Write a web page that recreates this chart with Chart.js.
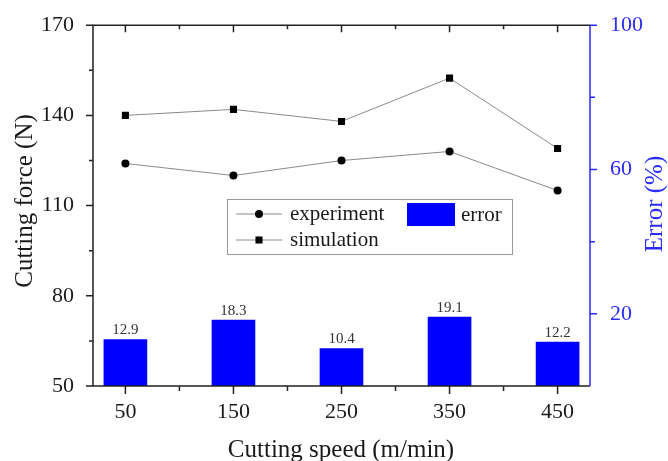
<!DOCTYPE html>
<html>
<head>
<meta charset="utf-8">
<script src="https://cdn.jsdelivr.net/npm/chart.js@4/dist/chart.umd.min.js"></script>
<style>
  html, body { margin: 0; padding: 0; background: #fff; }
  #wrap { width: 668px; height: 461px; }
</style>
</head>
<body>
<div id="wrap"><canvas id="chart" width="668" height="461"></canvas></div>
<script>
const SPEEDS = [50, 150, 250, 350, 450];
const EXPERIMENT = [124, 120, 125, 128, 115];
const SIMULATION = [140, 142, 138, 152.4, 129];
const ERROR = [12.9, 18.3, 10.4, 19.1, 12.2];

const FORCE_TICKS = [50, 80, 110, 140, 170];
const FORCE_MINOR = [65, 95, 125, 155];
const ERROR_TICKS = [20, 60, 100];
const ERROR_MINOR = [40, 80];
const SPEED_MINOR = [100, 200, 300, 400];

const SERIF = '"Liberation Serif", "Times New Roman", serif';
const INK = '#1a1a1a';
const BLUE = '#0000ff';
const AXIS_BLUE = '#2b2bff';

const toPoints = (ys) => SPEEDS.map((x, i) => ({ x: x, y: ys[i] }));

// frame lines plus tick marks (major + minor)
const frameTicks = {
    id: 'frameTicks',
    afterDraw(chart) {
        const ctx = chart.ctx;
        const { left, right, top, bottom } = chart.chartArea;
        const x = chart.scales.x, y = chart.scales.y, y1 = chart.scales.y1;
        ctx.save();
        ctx.lineWidth = 1.5;

        ctx.strokeStyle = '#222';
        ctx.beginPath();
        ctx.moveTo(right, top); ctx.lineTo(left, top);
        ctx.lineTo(left, bottom); ctx.lineTo(right, bottom);
        ctx.stroke();

        ctx.beginPath();
        SPEEDS.forEach(v => {
            const px = x.getPixelForValue(v);
            ctx.moveTo(px, bottom); ctx.lineTo(px, bottom + 8);
            ctx.moveTo(px, top); ctx.lineTo(px, top + 7);
        });
        SPEED_MINOR.forEach(v => {
            const px = x.getPixelForValue(v);
            ctx.moveTo(px, bottom); ctx.lineTo(px, bottom + 5);
            ctx.moveTo(px, top); ctx.lineTo(px, top + 4);
        });
        FORCE_TICKS.forEach(v => {
            const py = y.getPixelForValue(v);
            ctx.moveTo(left, py); ctx.lineTo(left - 7, py);
        });
        FORCE_MINOR.forEach(v => {
            const py = y.getPixelForValue(v);
            ctx.moveTo(left, py); ctx.lineTo(left - 4, py);
        });
        ctx.stroke();

        ctx.strokeStyle = AXIS_BLUE;
        ctx.beginPath();
        ctx.moveTo(right, top); ctx.lineTo(right, bottom);
        ERROR_TICKS.forEach(v => {
            const py = y1.getPixelForValue(v);
            ctx.moveTo(right, py); ctx.lineTo(right + 7, py);
        });
        ERROR_MINOR.forEach(v => {
            const py = y1.getPixelForValue(v);
            ctx.moveTo(right, py); ctx.lineTo(right + 5, py);
        });
        ctx.stroke();
        ctx.restore();
    }
};

// value printed above each error bar
const barValues = {
    id: 'barValues',
    afterDatasetsDraw(chart) {
        const ctx = chart.ctx;
        const meta = chart.getDatasetMeta(0);
        ctx.save();
        ctx.font = '15px ' + SERIF;
        ctx.fillStyle = '#333';
        ctx.textAlign = 'center';
        ctx.textBaseline = 'alphabetic';
        meta.data.forEach((bar, i) => {
            ctx.fillText(String(ERROR[i]), bar.x, bar.y - 5);
        });
        ctx.restore();
    }
};

// axis titles
const axisTitles = {
    id: 'axisTitles',
    afterDraw(chart) {
        const ctx = chart.ctx;
        ctx.save();
        ctx.font = '25px ' + SERIF;
        ctx.textAlign = 'center';
        ctx.textBaseline = 'alphabetic';
        ctx.fillStyle = INK;
        ctx.fillText('Cutting speed (m/min)', 341, 457);

        ctx.translate(32, 201);
        ctx.rotate(-Math.PI / 2);
        ctx.fillText('Cutting force (N)', 0, 0);
        ctx.restore();

        ctx.save();
        ctx.font = '25px ' + SERIF;
        ctx.textAlign = 'center';
        ctx.fillStyle = AXIS_BLUE;
        ctx.translate(662, 204);
        ctx.rotate(-Math.PI / 2);
        ctx.fillText('Error (%)', 0, 0);
        ctx.restore();
    }
};

// boxed legend: two line series on the left, the bar swatch on the right
const boxLegend = {
    id: 'boxLegend',
    afterDraw(chart) {
        const ctx = chart.ctx;
        const ds = chart.data.datasets;
        ctx.save();
        ctx.fillStyle = '#fff';
        ctx.fillRect(227, 199, 285, 55);
        ctx.strokeStyle = '#9a9a9a';
        ctx.lineWidth = 1;
        ctx.strokeRect(227.5, 199.5, 285, 55);

        ctx.font = '21px ' + SERIF;
        ctx.textBaseline = 'middle';
        ctx.textAlign = 'left';
        [[ds[1], 214], [ds[2], 240]].forEach(([d, ly]) => {
            ctx.strokeStyle = d.borderColor;
            ctx.lineWidth = d.borderWidth;
            ctx.beginPath();
            ctx.moveTo(236, ly); ctx.lineTo(282, ly);
            ctx.stroke();
            ctx.fillStyle = d.pointBackgroundColor;
            ctx.strokeStyle = d.pointBorderColor;
            Chart.helpers.drawPoint(ctx, {
                pointStyle: d.pointStyle, radius: d.pointRadius, borderWidth: 0, rotation: 0
            }, 259, ly);
            ctx.fillStyle = INK;
            ctx.fillText(d.label, 290, ly);
        });

        ctx.fillStyle = ds[0].backgroundColor;
        ctx.fillRect(407, 203, 48, 23);
        ctx.fillStyle = INK;
        ctx.fillText(ds[0].label, 461, 215);
        ctx.restore();
    }
};

new Chart(document.getElementById('chart'), {
    type: 'bar',
    data: {
        datasets: [
            {
                type: 'bar',
                label: 'error',
                data: toPoints(ERROR),
                yAxisID: 'y1',
                backgroundColor: BLUE,
                borderWidth: 0,
                barThickness: 43,
                order: 3
            },
            {
                type: 'line',
                label: 'experiment',
                data: toPoints(EXPERIMENT),
                yAxisID: 'y',
                borderColor: '#8a8a8a',
                borderWidth: 1,
                pointStyle: 'circle',
                pointRadius: 4,
                pointBackgroundColor: '#000',
                pointBorderColor: '#000',
                pointBorderWidth: 0,
                order: 1
            },
            {
                type: 'line',
                label: 'simulation',
                data: toPoints(SIMULATION),
                yAxisID: 'y',
                borderColor: '#8a8a8a',
                borderWidth: 1,
                pointStyle: 'rect',
                pointRadius: 5,
                pointBackgroundColor: '#000',
                pointBorderColor: '#000',
                pointBorderWidth: 0,
                order: 2
            }
        ]
    },
    options: {
        responsive: false,
        animation: false,
        devicePixelRatio: 1,
        layout: { padding: { top: 24, left: 0, right: 0, bottom: 0 } },
        plugins: {
            legend: { display: false },
            tooltip: { enabled: false }
        },
        scales: {
            x: {
                type: 'linear',
                position: 'bottom',
                min: 20,
                max: 480,
                offset: false,
                afterBuildTicks: s => { s.ticks = SPEEDS.map(v => ({ value: v })); },
                afterFit: s => { s.height = 75; },
                grid: { display: false, offset: false },
                border: { display: false },
                ticks: { font: { family: SERIF, size: 22 }, color: INK, padding: 5, maxRotation: 0 }
            },
            y: {
                position: 'left',
                min: 50,
                max: 170,
                afterBuildTicks: s => { s.ticks = FORCE_TICKS.map(v => ({ value: v })); },
                afterFit: s => { s.width = 93; },
                grid: { display: false },
                border: { display: false },
                ticks: { font: { family: SERIF, size: 22 }, color: INK, padding: 11 }
            },
            y1: {
                position: 'right',
                min: 0,
                max: 100,
                afterBuildTicks: s => { s.ticks = ERROR_TICKS.map(v => ({ value: v })); },
                afterFit: s => { s.width = 78; },
                grid: { display: false },
                border: { display: false },
                ticks: { font: { family: SERIF, size: 22 }, color: AXIS_BLUE, padding: 12 }
            }
        }
    },
    plugins: [frameTicks, barValues, axisTitles, boxLegend]
});
</script>
</body>
</html>
